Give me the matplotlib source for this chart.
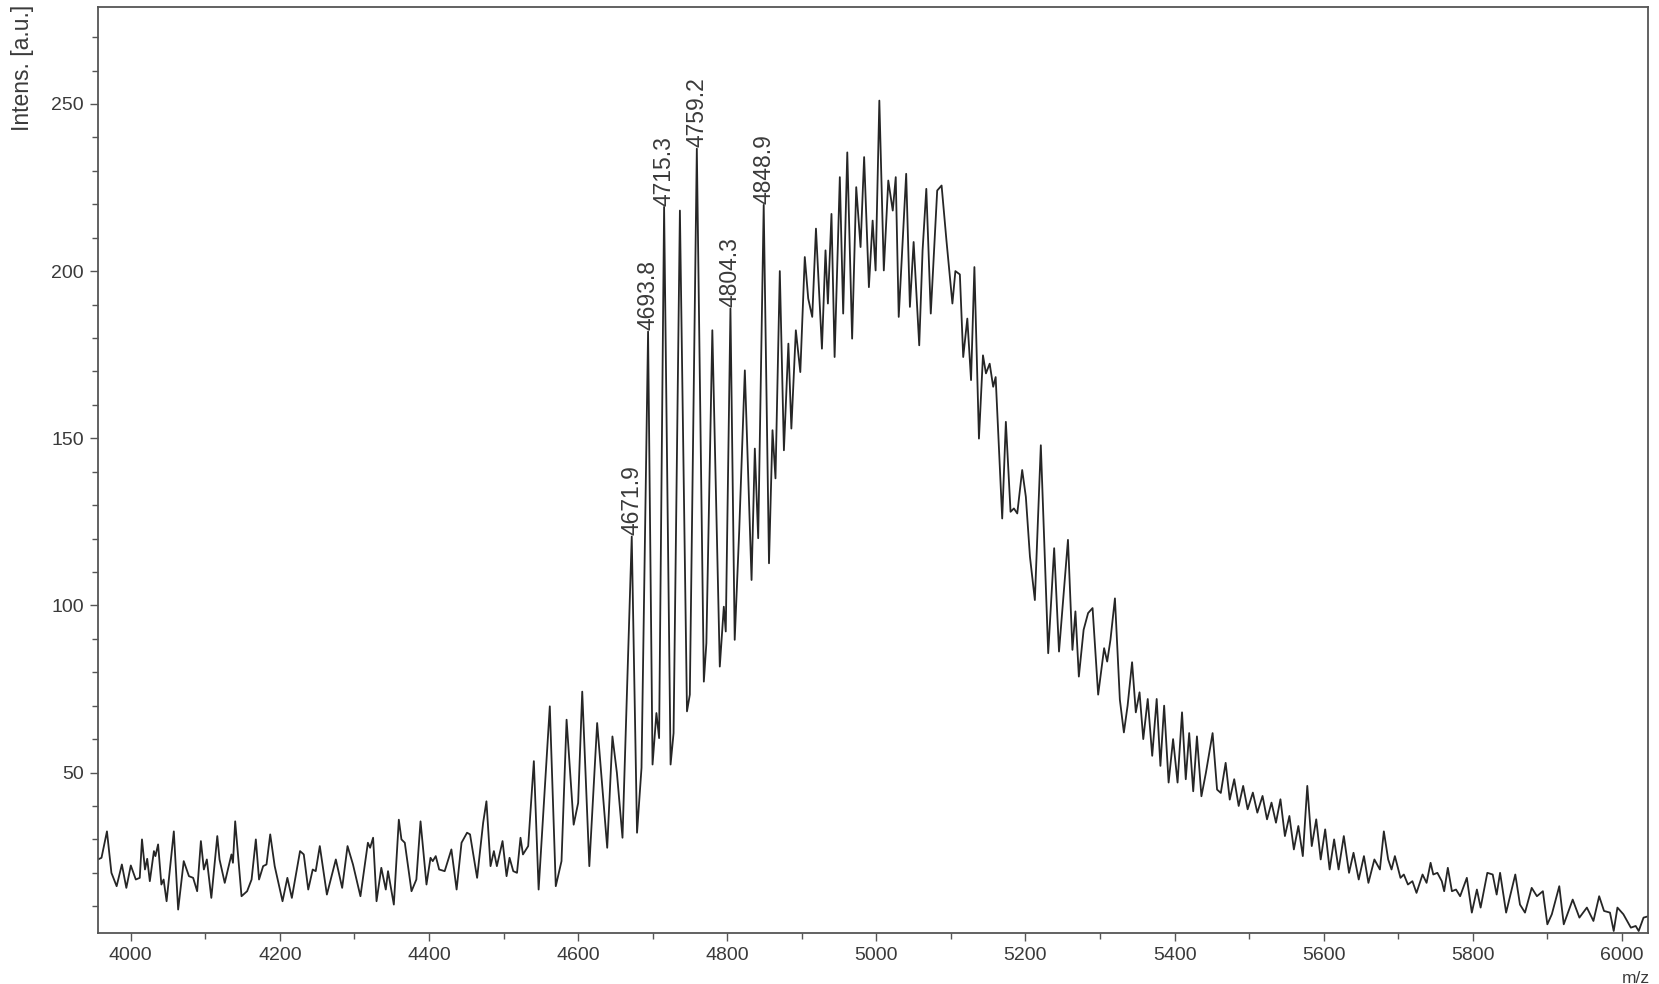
import matplotlib
matplotlib.use('Agg')
import matplotlib.pyplot as plt
from matplotlib.ticker import MultipleLocator

plt.rcParams['font.family'] = ['Liberation Sans', 'DejaVu Sans']

# spectrum (m/z, intensity)
mz = [
    3956, 3960.7, 3968, 3974, 3981, 3988, 3994, 4000, 4006.7, 4012, 4015, 4019, 4022, 4025.5,
    4031, 4033, 4036.6, 4041, 4044, 4048, 4057.7, 4063.5, 4071, 4078, 4083.6, 4089, 4094, 4098,
    4102, 4108, 4116, 4119, 4126, 4135, 4137, 4140, 4148.5, 4156, 4162, 4167.7, 4172, 4177.5,
    4182, 4187, 4193, 4203.5, 4210, 4216, 4227, 4232, 4238, 4244, 4248, 4253.5, 4263, 4275,
    4283.5, 4290.7, 4298, 4308, 4318, 4321, 4325, 4329.6, 4336, 4342,
    4345, 4352.8, 4359.5, 4363, 4367.5, 4376.5, 4383, 4388.6, 4396.6, 4402, 4405, 4409, 4413.6,
    4421, 4430, 4437, 4443.6, 4451, 4455, 4464.5, 4472.6, 4477, 4482.5, 4487, 4491, 4498.6,
    4504, 4508, 4513, 4518, 4522.7, 4526, 4533, 4540.6, 4547, 4562, 4570, 4577.7, 4584.5, 4594,
    4600, 4605.5, 4615, 4625.5, 4639, 4646, 4652, 4659.5, 4671.9, 4679, 4685, 4693.8, 4699.8,
    4705, 4708.6, 4715.3, 4724, 4728, 4736.5, 4746, 4749.8, 4759.2, 4768.6, 4772, 4780, 4790,
    4795.4, 4798, 4804.3, 4810, 4816, 4823.6, 4832.6, 4837, 4841.5, 4848.9, 4856, 4860.7,
    4864.7, 4870.5, 4876, 4882, 4886, 4892, 4898, 4904, 4908.6, 4914, 4919, 4927, 4931.8, 4935,
    4939.8, 4944, 4951, 4955.5, 4961, 4967.5, 4973, 4978.8, 4983.6, 4990, 4995, 4999, 5004,
    5010, 5016, 5022, 5026, 5030, 5040, 5045, 5050, 5057.5, 5062, 5067, 5073, 5081.6, 5087.5,
    5094, 5102, 5106, 5112, 5116.5, 5122, 5127, 5131.5, 5137.6, 5143, 5147, 5152, 5156.7, 5160,
    5168.8, 5173.7, 5180, 5184.5, 5189, 5195.6, 5200.5, 5206, 5212.6, 5220.6, 5230.5, 5238.5,
    5245, 5257, 5263, 5267, 5271.6, 5278, 5284, 5290, 5297.5, 5305.5, 5309.6, 5314, 5320,
    5326.6, 5332, 5337, 5343, 5348, 5353, 5358, 5364, 5370, 5376, 5381, 5386, 5392, 5398, 5404,
    5410, 5415, 5419.6, 5425, 5430, 5436, 5442, 5451, 5457, 5462, 5468.5, 5474, 5480, 5486,
    5492, 5498, 5505, 5511, 5518, 5524, 5530, 5536, 5542, 5548, 5554, 5560, 5566, 5572, 5578,
    5584, 5590, 5596, 5602, 5608, 5614, 5620, 5627, 5634, 5640, 5647, 5654, 5660, 5668, 5675.4,
    5680.7, 5686.5, 5691, 5695.5, 5703, 5707.5, 5713, 5719, 5724.5, 5732.6, 5738, 5743.4, 5747,
    5752.5, 5758.4, 5761.6, 5766.5, 5772, 5777.5, 5783, 5792, 5798.7, 5805.5, 5810.5, 5819.5,
    5826.7, 5832, 5836.6, 5844.7, 5850, 5857, 5863.3, 5870, 5879, 5886, 5894, 5900, 5906, 5916,
    5922, 5934, 5943, 5953, 5961.8, 5969.5, 5976, 5984, 5989, 5994, 6002, 6012, 6018.5, 6022.5,
    6029, 6037,
]
intens = [
    24.0, 24.5, 32.4, 20.0, 16.0, 22.5, 15.5, 22.2, 18.0, 18.5, 30.0, 21.0, 24.2, 17.5,
    26.5, 25.0, 28.5, 16.5, 18.0, 11.5, 32.4, 9.0, 23.5, 19.0, 18.5, 14.5, 29.5, 21.0,
    24.0, 12.5, 31.0, 24.0, 17.0, 25.5, 23.0, 35.4, 13.0, 14.5, 18.0, 30.0, 18.0, 22.0,
    22.5, 31.5, 22.0, 11.5, 18.5, 12.5, 26.5, 25.5, 15.0, 21.0, 20.5, 28.0, 13.5, 24.0,
    15.5, 28.0, 22.5, 13.0, 29.0, 27.5, 30.5, 11.5, 21.5, 15.0,
    20.5, 10.5, 35.9, 30.0, 29.0, 14.5, 18.0, 35.4, 16.5, 24.5, 23.5, 25.0, 21.0,
    20.5, 27.0, 15.0, 29.0, 32.0, 31.5, 18.5, 35.0, 41.4, 22.0, 26.5, 22.0, 29.5,
    19.0, 24.5, 20.5, 20.0, 30.5, 25.5, 28.0, 53.4, 15.0, 69.8, 16.0, 23.5, 65.8, 34.4,
    40.9, 74.2, 22.0, 64.8, 27.5, 60.8, 49.9, 30.5, 120.6, 32.0, 51.4, 181.9, 52.4,
    67.8, 60.3, 219.2, 52.4, 61.8, 218.1, 68.3, 73.3, 236.6, 77.2, 88.7, 182.3, 81.7,
    99.6, 92.2, 188.8, 89.7, 122.0, 170.3, 107.6, 146.9, 120.1, 219.8, 112.6, 152.4,
    138.0, 200.0, 146.4, 178.3, 152.9, 182.3, 169.8, 204.2, 191.8, 186.3, 212.7, 176.8, 206.2, 190.3,
    217.1, 174.3, 228.1, 187.3, 235.5, 179.8, 225.1, 207.2, 234.1, 195.2, 215.1, 200.2, 251.0,
    200.2, 227.1, 218.1, 228.1, 186.3, 229.1, 189.3, 208.7, 177.8, 206.2, 224.6, 187.3, 224.1, 225.6,
    209.2, 190.3, 200.0, 199.0, 174.3, 185.8, 167.4, 201.2, 149.9, 174.8, 169.4, 172.3, 165.4, 168.3,
    126.0, 154.9, 128.0, 129.0, 127.5, 140.5, 132.5, 114.6, 101.6, 147.9, 85.7, 117.1,
    86.2, 119.6, 86.7, 98.2, 78.7, 92.7, 97.7, 99.2, 73.3, 87.2, 83.2, 89.7, 102.1,
    71.8, 62.0, 70.0, 83.0, 68.0, 74.0, 60.0, 72.0, 55.0, 72.0, 52.0, 70.0, 47.0, 60.0, 47.0,
    68.0, 48.0, 61.8, 44.4, 60.8, 42.9, 49.9, 61.8, 44.9, 43.9, 52.9, 41.9, 48.0, 40.0,
    46.0, 39.0, 44.0, 38.0, 43.0, 36.0, 41.0, 35.0, 42.0, 31.0, 37.0, 27.0, 34.0, 25.0, 46.0,
    28.0, 36.0, 24.0, 33.0, 21.0, 30.0, 21.0, 31.0, 20.0, 26.0, 18.0, 25.0, 17.0, 24.0, 21.0,
    32.4, 24.0, 21.0, 25.0, 18.5, 19.5, 16.5, 17.5, 14.0, 19.5, 17.0, 23.0, 19.5,
    20.0, 17.5, 14.5, 21.5, 14.5, 15.0, 13.0, 18.5, 8.1, 15.0, 9.6, 20.0,
    19.5, 13.5, 20.0, 8.1, 13.0, 19.5, 10.5, 8.1, 15.5, 13.0, 14.5, 4.6, 7.6, 16.0,
    4.6, 12.0, 6.6, 9.6, 5.6, 13.0, 8.6, 8.1, 2.6, 9.6, 7.6, 3.6, 4.1, 2.6,
    6.6, 7.1,
]

# labelled peaks
peak_mz = [4671.9, 4693.8, 4715.3, 4759.2, 4804.3, 4848.9]
peak_int = [120.6, 181.9, 219.2, 236.6, 188.8, 219.8]

TXT = '#3a3a3a'

fig = plt.figure(figsize=(16.59, 9.84), dpi=100)
ax = fig.add_axes([98 / 1659, 1 - 933 / 984, 1550 / 1659, 926 / 984])

ax.plot(mz, intens, color='#262626', linewidth=1.3, solid_joinstyle='round')

for m, h in zip(peak_mz, peak_int):
    ax.annotate(f'{m:.1f}', (m, h), xytext=(0, 1), textcoords='offset points',
                rotation=90, ha='center', va='bottom', fontsize=16.5, color=TXT)

ax.set_xlim(3956, 6035)
ax.set_ylim(2, 279)
ax.xaxis.set_major_locator(MultipleLocator(200))
ax.xaxis.set_minor_locator(MultipleLocator(100))
ax.yaxis.set_major_locator(MultipleLocator(50))
ax.yaxis.set_minor_locator(MultipleLocator(10))
ax.set_yticks([50, 100, 150, 200, 250])

ax.tick_params(which='major', direction='out', length=6, width=1.0, color='#555555',
               labelsize=14, labelcolor=TXT)
ax.tick_params(axis='x', which='major', pad=4)
ax.tick_params(axis='y', which='major', pad=4)
ax.tick_params(which='minor', direction='out', length=4.5, width=1.0, color='#555555')
for s in ax.spines.values():
    s.set_color('#555555')
    s.set_linewidth(1.3)

fig.text(22 / 1659, 1 - 5 / 984, 'Intens. [a.u.]', rotation=90, ha='center', va='top',
         fontsize=16.5, color=TXT)
fig.text(1650 / 1659, -2 / 984, 'm/z', ha='right', va='bottom', fontsize=12.5, color=TXT)

fig.savefig('out.png', dpi=100)
